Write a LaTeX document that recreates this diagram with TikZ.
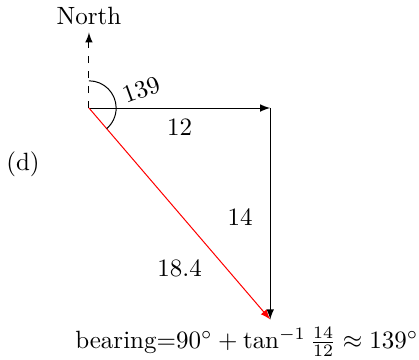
\documentclass[tikz,border=0pt]{standalone}
\usepackage{amsfonts, amsmath, amssymb}
\usetikzlibrary{calc}

\begin{document}
\begin{tikzpicture}[x=0.2125cm,y=0.2125cm,>=latex]
\useasboundingbox (-5.89,-16.62) rectangle (21.85,7.15);
\coordinate (O) at (0,0);
\coordinate (N) at (0,5);
\coordinate (E) at (12,0);
\coordinate (S) at (12,-14);
\draw[dashed,->] (O) -- (N);
\draw[->] (O) -- (E);
\draw[->] (E) -- (S);
\draw[red,->] (O) -- (S);
\draw (O) ++(90:1.8) arc[start angle=90,end angle=-49.4,radius=1.8];
\node (north) at (0,6.1) {North};
\node[rotate=20] (ang) at (3.5,1.2) {139};
\node (east) at (6,-1.3) {12};
\node (south) at (10,-7.2) {14};
\node (hyp) at (6,-10.6) {18.4};
\node (part) at (-4.37,-3.7) {(d)};
\node (bear) at (10.45,-15.5) {bearing=\(90^\circ + \tan^{-1}\frac{14}{12} \approx 139^\circ\)};
\end{tikzpicture}
\end{document}
